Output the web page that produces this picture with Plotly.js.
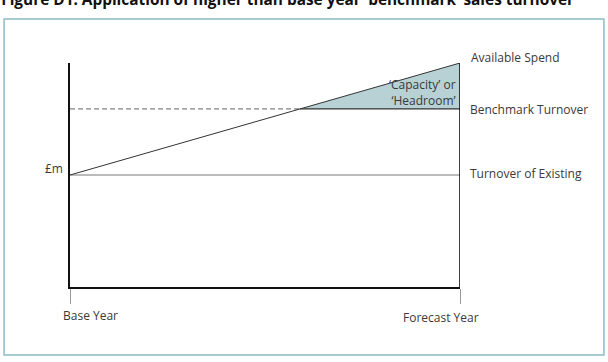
<!DOCTYPE html>
<html>
<head>
<meta charset="utf-8">
<script src="https://cdn.plot.ly/plotly-3.0.1.min.js"></script>
<style>html,body{margin:0;padding:0;background:#fff;}#chart{width:608px;height:362px;}</style>
</head>
<body>
<div id="chart"></div>
<script>
// Conceptual chart data (relative £m levels, base year -> forecast year)
const years = [0, 1];
const yearLabels = ["Base Year", "Forecast Year"];
const existingTurnover = [50, 50];
const benchmarkTurnover = [79.5, 79.5];
const availableSpend = [50, 100];
const seriesLabels = ["Available Spend", "Benchmark Turnover", "Turnover of Existing"];
const yLabel = "£m";
const areaLabel = "‘Capacity’ or<br>‘Headroom’";
const titleText = "Figure D1: Application of higher than base year ‘benchmark’ sales turnover";

// crossing point of available spend with benchmark turnover
const bench = benchmarkTurnover[0];
const xCross = years[0] + (bench - availableSpend[0]) / (availableSpend[1] - availableSpend[0]) * (years[1] - years[0]);

const txt = "#3a3a3a";
const font = {family: "Open Sans, Noto Sans, sans-serif", size: 12, color: txt};

const traces = [
  { // headroom area
    x: [xCross, years[1], years[1], xCross],
    y: [bench, availableSpend[1], benchmarkTurnover[1], bench],
    mode: "lines", fill: "toself", fillcolor: "#b7d1d5",
    line: {width: 0}, hoverinfo: "skip"
  },
  { // benchmark dashed part
    x: [years[0], xCross], y: [benchmarkTurnover[0], bench],
    mode: "lines", line: {color: "#666", width: 1, dash: "5px,3px"}, hoverinfo: "skip"
  },
  { // benchmark solid part (triangle base)
    x: [xCross, years[1]], y: [bench, benchmarkTurnover[1]],
    mode: "lines", line: {color: "#333", width: 1.2}, hoverinfo: "skip"
  },
  { // existing turnover
    x: years, y: existingTurnover,
    mode: "lines", line: {color: "#777", width: 1}, hoverinfo: "skip"
  },
  { // available spend
    x: years, y: availableSpend,
    mode: "lines", line: {color: "#333", width: 1}, hoverinfo: "skip"
  },
  { // forecast year vertical
    x: [years[1], years[1]], y: [0, availableSpend[1]],
    mode: "lines", line: {color: "#111", width: 1.6}, hoverinfo: "skip"
  }
];

const annotations = [
  {x: years[1], y: availableSpend[1], text: seriesLabels[0], xanchor: "left", yanchor: "middle", xshift: 9, yshift: 6},
  {x: years[1], y: benchmarkTurnover[1], text: seriesLabels[1], xanchor: "left", yanchor: "middle", xshift: 8, yshift: -1},
  {x: years[1], y: existingTurnover[1], text: seriesLabels[2], xanchor: "left", yanchor: "middle", xshift: 8, yshift: 2},
  {x: years[0], y: existingTurnover[0], text: yLabel, xanchor: "right", yanchor: "middle", xshift: -5, yshift: 7},
  {x: years[1], y: bench, text: areaLabel, xanchor: "right", yanchor: "bottom", xshift: -2, yshift: -2, align: "right"},
  {x: years[0], y: 0, text: yearLabels[0], xanchor: "center", yanchor: "middle", xshift: 20, yshift: -28},
  {x: years[1], y: 0, text: yearLabels[1], xanchor: "center", yanchor: "middle", xshift: -19, yshift: -30}
].map(a => Object.assign({xref: "x", yref: "y", showarrow: false, font: font}, a));

const layout = {
  width: 608, height: 362,
  margin: {l: 70, r: 148, t: 63, b: 75},
  paper_bgcolor: "#fff", plot_bgcolor: "#fff",
  showlegend: false,
  font: font,
  title: {
    text: "<b>" + titleText + "</b>",
    font: {family: "Open Sans, Noto Sans, sans-serif", size: 15.4, color: "#111"},
    xref: "container", yref: "container", x: 0.002, xanchor: "left", y: 1, yanchor: "middle", pad: {l: 0, t: 0}
  },
  xaxis: {
    range: [years[0], years[1]], showgrid: false, zeroline: false,
    showline: true, linecolor: "#111", linewidth: 2,
    tickvals: years, ticks: "outside", ticklen: 15, tickwidth: 1, tickcolor: "#999",
    showticklabels: false, fixedrange: true
  },
  yaxis: {
    range: [0, 100], showgrid: false, zeroline: false,
    showline: true, linecolor: "#111", linewidth: 2,
    ticks: "", showticklabels: false, fixedrange: true
  },
  shapes: [{
    type: "rect", xref: "paper", yref: "paper",
    x0: -0.169, x1: 1.369, y0: -0.304, y1: 1.196,
    line: {color: "#8abcc2", width: 1.5}, fillcolor: "rgba(0,0,0,0)", layer: "below"
  }],
  annotations: annotations
};

Plotly.newPlot("chart", traces, layout, {staticPlot: true, displayModeBar: false});
</script>
</body>
</html>
